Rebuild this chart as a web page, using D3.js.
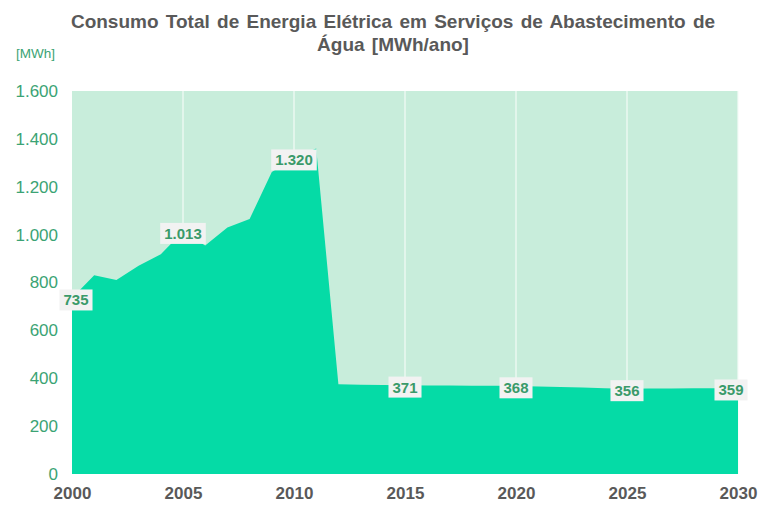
<!DOCTYPE html>
<html>
<head>
<meta charset="utf-8">
<script src="https://cdn.jsdelivr.net/npm/d3@7"></script>
<style>
  body { margin: 0; background: #fff; }
  svg { font-family: "Liberation Sans", Arial, sans-serif; }
</style>
</head>
<body>
<svg id="chart" width="763" height="505"></svg>
<script>
// valores
const years = d3.range(2000, 2031);
const consumo = [735, 830, 810, 870, 918, 1013, 955, 1030, 1065, 1262, 1320, 1360,
    375, 373, 372, 371, 370, 370, 369, 369, 368, 366, 363, 361, 358, 356, 357, 357, 358, 358, 359];
const labelYears = [2000, 2005, 2010, 2015, 2020, 2025, 2030];
const yTicks = [0, 200, 400, 600, 800, 1000, 1200, 1400, 1600];
const titleLines = ["Consumo Total de Energia Elétrica em Serviços de Abastecimento de", "Água [MWh/ano]"];

const data = years.map((y, i) => ({ year: y, value: consumo[i] }));

const width = 763, height = 505,
    margin = { top: 91, right: 25, bottom: 31, left: 72 };

const fmt = v => d3.format(",")(v).replace(/,/g, ".");

const svg = d3.select("#chart");

const x = d3.scaleLinear()
    .domain([2000, 2030])
    .range([margin.left, width - margin.right]);

const y = d3.scaleLinear()
    .domain([0, 1600])
    .range([height - margin.bottom, margin.top]);

// fundo da área de plotagem
svg.append("rect")
    .attr("x", x(2000))
    .attr("y", y(1600))
    .attr("width", x(2030) - x(2000))
    .attr("height", y(0) - y(1600))
    .attr("fill", "#c8eddb");

// grade vertical
svg.append("g")
    .selectAll("line")
    .data(labelYears.slice(1))
    .join("line")
    .attr("x1", d => x(d)).attr("x2", d => x(d))
    .attr("y1", y(1600)).attr("y2", y(0))
    .attr("stroke", "#f4fbf7")
    .attr("stroke-width", 1.2);

const area = d3.area()
    .x(d => x(d.year))
    .y0(y(0))
    .y1(d => y(d.value));

svg.append("path")
    .datum(data)
    .attr("fill", "#05dba6")
    .attr("d", area);

// eixo y
svg.append("g")
    .attr("transform", `translate(${margin.left},0)`)
    .call(d3.axisLeft(y).tickValues(yTicks).tickFormat(fmt).tickSize(0).tickPadding(14))
    .call(g => g.select(".domain").remove())
    .call(g => g.selectAll("text")
        .attr("fill", "#3ba374")
        .attr("font-size", 17)
        .attr("font-family", "Liberation Sans, Arial, sans-serif"));

// eixo x
svg.append("g")
    .attr("transform", `translate(0,${y(0)})`)
    .call(d3.axisBottom(x).tickValues(labelYears).tickFormat(d3.format("d")).tickSize(0).tickPadding(13))
    .call(g => g.select(".domain").remove())
    .call(g => g.selectAll("text")
        .attr("fill", "#595959")
        .attr("font-size", 17)
        .attr("font-weight", "bold")
        .attr("font-family", "Liberation Sans, Arial, sans-serif"));

// rótulos de dados (os das pontas ficam um pouco para dentro)
const shift = d => d.year === 2000 ? 4 : d.year === 2030 ? -7 : 0;
const lbl = svg.append("g")
    .selectAll("g")
    .data(data.filter(d => labelYears.includes(d.year)))
    .join("g")
    .attr("transform", d => `translate(${x(d.year) + shift(d)},${y(d.value) + 2})`);

lbl.append("text")
    .attr("text-anchor", "middle")
    .attr("dy", "0.36em")
    .attr("font-size", 15)
    .attr("font-weight", "bold")
    .attr("fill", "#3a9a6a")
    .text(d => fmt(d.value))
    .each(function () {
        const b = this.getBBox();
        d3.select(this.parentNode).insert("rect", "text")
            .attr("x", b.x - 4)
            .attr("y", b.y - 2)
            .attr("width", b.width + 8)
            .attr("height", b.height + 4)
            .attr("fill", "#f2f2f2");
    });

// título
svg.append("text")
    .attr("text-anchor", "middle")
    .attr("font-size", 19)
    .attr("font-weight", "bold")
    .attr("fill", "#595959")
    .attr("word-spacing", 2)
    .selectAll("tspan")
    .data(titleLines)
    .join("tspan")
    .attr("x", 393)
    .attr("y", (d, i) => 28 + i * 23)
    .text(d => d);

svg.append("text")
    .attr("x", 16)
    .attr("y", 58)
    .attr("font-size", 13.5)
    .attr("fill", "#3ba374")
    .text("[MWh]");
</script>
</body>
</html>
